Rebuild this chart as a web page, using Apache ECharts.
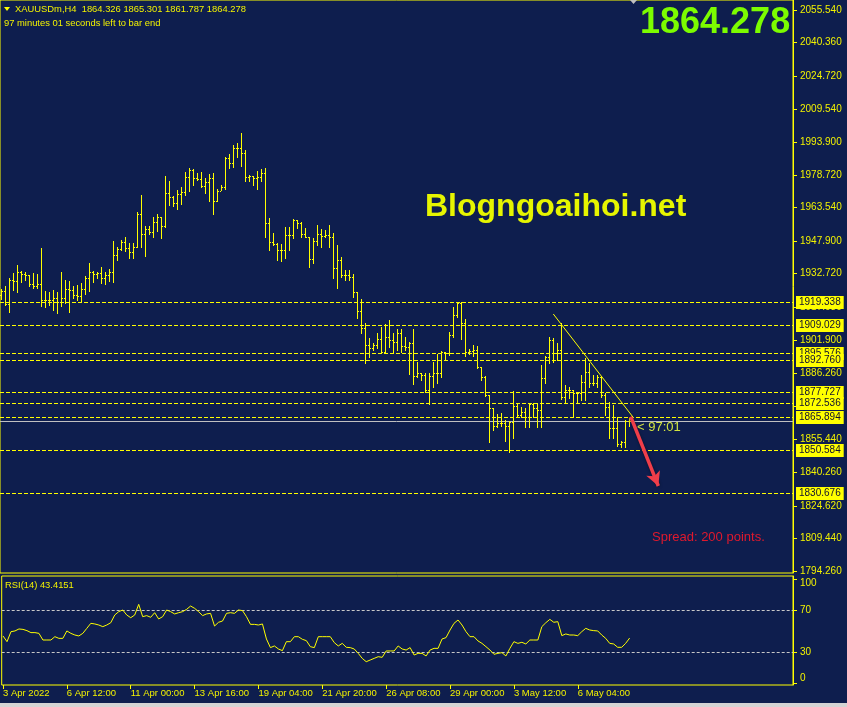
<!DOCTYPE html>
<html>
<head>
<meta charset="utf-8">
<script src="https://cdn.jsdelivr.net/npm/echarts/dist/echarts.min.js"></script>
<style>
html,body{margin:0;padding:0;background:#0e1e4e;}
#chart{width:847px;height:707px;}
</style>
</head>
<body>
<div id="chart"></div>
<script>
// ---------- DATA ----------
const opens = [1922.81,1924.83,1918.62,1929.64,1929.48,1933.67,1932.59,1932.12,1927.93,1927.00,
1927.78,1920.48,1920.48,1920.48,1921.57,1919.70,1921.57,1925.45,1925.14,1922.81,
1922.34,1925.45,1930.57,1933.67,1932.59,1932.90,1930.88,1932.12,1933.67,1941.44,
1944.23,1947.65,1944.54,1942.68,1945.01,1960.38,1951.22,1953.55,1952.30,1956.96,
1958.98,1955.00,1970.16,1968.60,1965.81,1969.85,1970.93,1977.61,1981.02,1977.45,
1976.68,1973.57,1975.28,1977.45,1966.59,1971.40,1973.26,1986.46,1984.44,1991.11,
1991.42,1988.78,1977.92,1978.23,1977.14,1977.92,1979.78,1956.18,1947.64,1946.50,
1943.76,1943.76,1950.75,1950.75,1957.73,1956.49,1951.21,1949.97,1939.57,1948.00,
1951.21,1950.28,1950.75,1949.97,1935.22,1939.10,1932.12,1932.12,1931.34,1924.04,
1915.35,1907.28,1899.50,1897.96,1899.52,1902.16,1896.10,1903.40,1901.84,1901.07,
1904.95,1899.05,1898.74,1900.29,1885.08,1886.32,1885.54,1878.56,1885.08,1886.32,
1886.32,1896.41,1895.95,1904.17,1913.49,1918.92,1909.61,1896.41,1896.88,1897.19,
1889.43,1884.77,1876.23,1870.02,1861.79,1863.03,1863.03,1861.79,1863.81,1871.10,
1866.91,1868.46,1866.14,1872.04,1870.02,1869.24,1883.99,1894.08,1901.84,1895.63,
1897.18,1875.45,1878.56,1878.56,1877.31,1877.00,1882.44,1887.09,1881.66,1881.66,
1884.76,1876.23,1870.48,1860.70,1860.70,1853.41,1854.49,1864.326];
const highs = [1925.45,1927.00,1930.88,1933.21,1936.78,1934.14,1933.67,1932.12,1933.21,1932.59,
1944.85,1924.83,1924.36,1925.14,1924.36,1933.67,1929.79,1929.48,1927.00,1927.46,
1928.24,1931.81,1937.87,1934.14,1933.67,1936.00,1933.67,1934.76,1947.96,1945.01,
1948.42,1949.66,1946.87,1946.87,1961.31,1969.38,1954.94,1955.10,1959.29,1960.38,
1959.30,1978.23,1975.90,1968.91,1971.71,1973.26,1980.25,1981.80,1981.49,1979.47,
1980.25,1977.14,1979.00,1979.47,1972.17,1974.04,1987.23,1988.47,1992.67,1993.44,
1998.10,1990.34,1978.69,1978.38,1980.71,1981.33,1981.80,1958.51,1951.52,1946.86,
1946.40,1954.63,1954.63,1958.04,1957.73,1956.95,1953.85,1949.66,1949.50,1955.40,
1953.38,1953.07,1955.40,1951.52,1946.09,1940.65,1934.45,1934.45,1932.58,1924.36,
1920.94,1909.61,1902.62,1900.29,1904.95,1908.05,1909.14,1911.16,1905.26,1906.81,
1906.81,1903.40,1901.07,1906.81,1891.44,1886.63,1886.63,1886.32,1891.44,1895.32,
1896.72,1896.41,1905.73,1917.37,1919.39,1919.70,1911.47,1897.50,1899.52,1899.05,
1889.43,1885.23,1876.23,1870.02,1867.38,1867.69,1864.58,1864.12,1878.24,1872.35,
1870.79,1870.02,1872.35,1872.35,1872.35,1890.20,1894.39,1903.39,1902.62,1900.29,
1909.91,1880.88,1880.11,1878.56,1877.78,1885.54,1893.30,1890.97,1885.54,1885.54,
1885.00,1877.00,1873.12,1871.57,1866.14,1854.96,1864.58,1865.301];
const lows = [1920.94,1918.15,1915.05,1925.14,1924.05,1928.71,1929.79,1927.00,1925.91,1925.91,
1917.68,1917.37,1918.15,1915.82,1914.58,1917.68,1918.93,1915.05,1921.26,1920.48,
1920.17,1923.27,1924.67,1929.02,1930.88,1928.24,1927.78,1929.33,1929.02,1939.11,
1943.76,1943.30,1939.88,1939.88,1945.01,1945.32,1940.97,1951.06,1949.97,1952.61,
1949.51,1954.50,1964.72,1964.26,1962.86,1965.03,1969.38,1971.24,1974.04,1976.37,
1972.95,1970.16,1966.59,1960.38,1966.59,1971.71,1972.02,1981.80,1982.57,1987.23,
1982.89,1976.05,1976.05,1974.04,1972.17,1976.05,1949.97,1943.76,1946.09,1939.10,
1938.64,1939.88,1943.76,1949.19,1953.85,1949.97,1949.66,1936.00,1937.55,1946.09,
1945.31,1949.97,1945.31,1930.56,1925.91,1931.34,1929.79,1929.79,1921.72,1911.94,
1904.95,1890.98,1894.08,1897.19,1897.96,1895.64,1896.10,1898.74,1896.41,1897.19,
1896.41,1897.19,1885.85,1881.35,1884.77,1883.22,1877.78,1872.04,1879.80,1881.66,
1884.77,1892.53,1894.86,1903.40,1912.71,1902.16,1894.39,1895.32,1894.39,1888.65,
1883.22,1875.76,1854.50,1859.93,1861.48,1861.79,1855.00,1849.84,1856.05,1866.14,
1866.14,1861.48,1861.48,1866.14,1861.48,1861.48,1881.66,1890.97,1891.75,1892.53,
1874.21,1873.12,1874.67,1866.14,1873.12,1873.90,1873.90,1880.11,1880.88,1880.11,
1875.45,1866.91,1856.05,1856.05,1852.63,1852.16,1852.16,1861.787];
const closes = [1924.83,1918.62,1929.64,1929.48,1933.67,1932.59,1932.12,1927.93,1927.00,1927.78,
1920.48,1920.48,1920.48,1921.57,1919.70,1921.57,1925.45,1925.14,1922.81,1922.34,
1925.45,1930.57,1933.67,1932.59,1932.90,1930.88,1932.12,1933.67,1941.44,1944.23,
1947.65,1944.54,1942.68,1945.01,1960.38,1951.22,1953.55,1952.30,1956.96,1958.98,
1955.00,1970.16,1968.60,1965.81,1969.85,1970.93,1977.61,1981.02,1977.45,1976.68,
1973.57,1975.28,1977.45,1966.59,1971.40,1973.26,1986.46,1984.44,1991.11,1991.42,
1988.78,1977.92,1978.23,1977.14,1977.92,1979.78,1956.18,1947.64,1946.50,1943.76,
1943.76,1950.75,1950.75,1957.73,1956.49,1951.21,1949.97,1939.57,1948.00,1951.21,
1950.28,1950.75,1949.97,1935.22,1939.10,1932.12,1932.12,1931.34,1924.04,1915.35,
1907.28,1899.50,1897.96,1899.52,1902.16,1896.10,1903.40,1901.84,1901.07,1904.95,
1899.05,1898.74,1900.29,1885.08,1886.32,1885.54,1878.56,1885.08,1886.32,1886.32,
1896.41,1895.95,1904.17,1913.49,1918.92,1909.61,1896.41,1896.88,1897.19,1889.43,
1884.77,1876.23,1870.02,1861.79,1863.03,1863.03,1861.79,1863.81,1871.10,1866.91,
1868.46,1866.14,1872.04,1870.02,1869.24,1883.99,1894.08,1901.84,1895.63,1897.18,
1875.45,1878.56,1878.56,1877.31,1877.00,1882.44,1887.09,1881.66,1881.66,1884.76,
1876.23,1870.48,1860.70,1860.70,1853.41,1854.49,1864.27,1864.278];
const rsi = [45.4,39.9,49.5,50.2,52.1,51.7,50.5,48.6,48.6,47.9,
41.5,41.5,41.5,44.7,43.1,43.1,50.2,47.9,46.3,45.4,
47.9,52.7,57.5,56.9,55.9,54.3,55.9,58.1,65.5,68.7,
70.3,65.5,62.9,65.5,75.7,63.9,64.9,63.3,67.7,61.7,
63.9,70.3,68.7,66.5,67.7,68.7,70.9,74.1,71.9,68.7,
64.9,66.5,67.1,54.9,58.5,59.7,67.1,67.7,67.1,70.3,
69.7,63.9,56.5,56.5,55.9,56.9,42.5,34.2,35.8,32.9,
31.3,39.9,39.9,44.7,44.7,42.2,40.9,35.1,34.2,44.7,
44.7,44.7,44.7,39.0,35.8,38.3,34.5,34.2,32.9,28.7,
23.9,20.7,22.3,23.9,25.5,24.9,31.0,31.0,31.0,35.8,
32.9,31.9,34.2,27.1,28.7,28.7,26.2,31.9,33.5,33.5,
42.5,43.8,51.1,57.5,60.7,55.9,49.5,44.7,44.7,40.6,
38.3,35.1,31.9,27.8,28.7,29.4,26.2,33.5,39.9,38.3,
39.3,37.7,41.5,41.5,41.5,54.3,58.1,61.3,58.5,59.1,
45.7,47.3,46.3,46.3,45.7,49.5,52.7,51.1,50.5,50.2,
46.3,43.1,38.3,37.7,34.5,34.5,38.3,43.4];

const priceTicks = [2055.54,2040.36,2024.72,2009.54,1993.90,1978.72,1963.54,1947.90,1932.72,
1917.08,1901.90,1886.26,1871.08,1855.44,1840.26,1824.62,1809.44,1794.26];
const rsiTicks = [0,30,70,100];
const rsiLevels = [70,30];
const levels = [1919.338,1909.029,1895.576,1892.760,1877.727,1872.536,1865.894,1850.584,1830.676];
const bidPrice = [1864.278];
const xTickIdx = [0,16,32,48,64,80,96,112,128,144];
const xTickLabels = ['3 Apr 2022','6 Apr 12:00','11 Apr 00:00','13 Apr 16:00','19 Apr 04:00',
  '21 Apr 20:00','26 Apr 08:00','29 Apr 00:00','3 May 12:00','6 May 04:00'];
const trendX = [138, 157.9];
const trendY = [1913.95, 1866.0];
const arrowX = [157.35, 164.25];
const arrowY = [1866.12, 1833.85];

// ---------- STYLE ----------
const BG = '#0e1e4e';
const YEL = '#ffff00';
const LBL = '#f2f200';
const FONT = "'Liberation Sans', Arial, sans-serif";
const f = (s, w) => (w ? w + ' ' : '') + s + "px 'Liberation Sans', Arial, sans-serif";

const ohlc = opens.map((o, i) => [i, o, highs[i], lows[i], closes[i]]);

const chart = echarts.init(document.getElementById('chart'), null, {renderer: 'canvas'});

// horizontal level renderer (crisp 1px lines)
function hLine(stroke, dash, labelStyle) {
  return (params, api) => {
    const v = api.value(1);
    const cs = params.coordSys;
    const y = Math.round(api.coord([0, v])[1]) + 0.5;
    const children = [{type: 'line', shape: {x1: cs.x, y1: y, x2: cs.x + cs.width, y2: y},
      style: {stroke: stroke, lineWidth: 1, lineDash: dash}}];
    if (labelStyle) {
      children.push({type: 'text', x: cs.x + cs.width + labelStyle.dx, y: y,
        style: Object.assign({text: v.toFixed(3), align: 'left', verticalAlign: 'middle', font: f(10)}, labelStyle.style)});
    }
    return {type: 'group', children: children};
  };
}

const option = {
  backgroundColor: BG,
  animation: false,
  grid: [
    {left: 0, top: 0, width: 793, height: 573, show: true, borderColor: YEL, borderWidth: 1},
    {left: 0, top: 576, width: 793, height: 109, show: true, borderColor: YEL, borderWidth: 1}
  ],
  xAxis: [
    {type: 'value', gridIndex: 0, min: -0.325, max: 197.925, show: false, axisLine: {onZero: false}},
    {type: 'value', gridIndex: 1, min: -0.325, max: 197.925,
      axisLine: {show: false, onZero: false}, splitLine: {show: false},
      axisTick: {show: true, customValues: xTickIdx, length: 4, lineStyle: {color: YEL}},
      axisLabel: {show: true, customValues: xTickIdx, align: 'left', margin: 3,
        color: LBL, fontSize: 9.5, fontFamily: FONT,
        formatter: v => { const k = xTickIdx.indexOf(Math.round(v)); return k >= 0 ? xTickLabels[k] : ''; }}}
  ],
  yAxis: [
    {type: 'value', gridIndex: 0, position: 'right', min: 1793.33, max: 2060.20,
      axisLine: {show: true, onZero: false, lineStyle: {color: YEL}}, splitLine: {show: false},
      axisTick: {show: true, customValues: priceTicks, length: 4, lineStyle: {color: YEL}},
      axisLabel: {show: true, customValues: priceTicks, margin: 7, align: 'left',
        color: LBL, fontSize: 10, fontFamily: FONT, formatter: v => v.toFixed(3)}},
    {type: 'value', gridIndex: 1, position: 'right', min: -1.65, max: 102.9,
      axisLine: {show: true, onZero: false, lineStyle: {color: YEL}}, splitLine: {show: false},
      axisTick: {show: true, customValues: rsiTicks, length: 4, lineStyle: {color: YEL}},
      axisLabel: {show: true, customValues: rsiTicks, margin: 7, align: 'left',
        color: LBL, fontSize: 10, fontFamily: FONT,
        formatter: v => v === 100 ? '{a|100}' : (v === 0 ? '{b|0}' : String(v)),
        rich: {a: {padding: [9, 0, 0, 0], color: LBL, fontSize: 10, fontFamily: FONT},
               b: {padding: [0, 0, 10, 0], color: LBL, fontSize: 10, fontFamily: FONT}}}}
  ],
  series: [
    {
      type: 'custom', name: 'bid', xAxisIndex: 0, yAxisIndex: 0, silent: true, z: 2,
      data: bidPrice.map(v => [0, v]), encode: {x: 0, y: 1},
      renderItem: hLine('#c0c0c0', null, {dx: 7, style: {fill: LBL}})
    },
    {
      type: 'custom', name: 'XAUUSDm', xAxisIndex: 0, yAxisIndex: 0, silent: true, z: 3,
      data: ohlc, encode: {x: 0, y: [1, 2, 3, 4]},
      renderItem: (params, api) => {
        const i = api.value(0);
        const pH = api.coord([i, api.value(2)]);
        const pL = api.coord([i, api.value(3)]);
        const pO = api.coord([i, api.value(1)]);
        const pC = api.coord([i, api.value(4)]);
        const x = Math.floor(pH[0]);
        const yH = Math.round(pH[1]), yL = Math.round(pL[1]);
        return {type: 'group', children: [
          {type: 'rect', shape: {x: x, y: yH, width: 1, height: Math.max(1, yL - yH + 1)}, style: {fill: YEL}},
          {type: 'rect', shape: {x: x - 1, y: Math.round(pO[1]), width: 1, height: 1}, style: {fill: YEL}},
          {type: 'rect', shape: {x: x + 1, y: Math.round(pC[1]), width: 1, height: 1}, style: {fill: YEL}}
        ]};
      }
    },
    {
      type: 'custom', name: 'levels', xAxisIndex: 0, yAxisIndex: 0, silent: true, z: 4,
      data: levels.map(v => [0, v]), encode: {x: 0, y: 1},
      renderItem: hLine(YEL, [4, 2], {dx: 3, style: {fill: '#101030', backgroundColor: YEL, padding: [2, 3, 1, 3]}})
    },
    {
      type: 'line', name: 'trend', xAxisIndex: 0, yAxisIndex: 0,
      data: trendX.map((x, k) => [x, trendY[k]]),
      showSymbol: false, lineStyle: {color: YEL, width: 1}, silent: true, z: 5,
      markLine: {
        silent: true, symbol: ['none', 'arrow'], symbolSize: [11, 14],
        lineStyle: {color: '#ef3e4a', width: 3.5, type: 'solid', shadowColor: 'rgba(0,0,0,0.5)', shadowBlur: 3},
        label: {show: false}, emphasis: {disabled: true},
        data: [[{coord: [arrowX[0], arrowY[0]]}, {coord: [arrowX[1], arrowY[1]]}]]
      }
    },
    {
      type: 'custom', name: 'rsiLevels', xAxisIndex: 1, yAxisIndex: 1, silent: true, z: 2,
      data: rsiLevels.map(v => [0, v]), encode: {x: 0, y: 1},
      renderItem: hLine('#c8c8c8', [3, 2], null)
    },
    {
      type: 'line', name: 'RSI(14)', xAxisIndex: 1, yAxisIndex: 1,
      data: rsi.map((v, i) => [i, v]),
      showSymbol: false, lineStyle: {color: YEL, width: 1}, silent: true, z: 4
    }
  ],
  graphic: [
    {type: 'polygon', shape: {points: [[4, 7], [10, 7], [7, 11]]}, style: {fill: YEL}},
    {type: 'polygon', shape: {points: [[630, 0], [637, 0], [633.5, 4]]}, style: {fill: '#c0c0c0'}},
    {type: 'text', x: 15, y: 9, style: {text: 'XAUUSDm,H4  1864.326 1865.301 1861.787 1864.278',
      fill: LBL, verticalAlign: 'middle', font: f(9.4)}},
    {type: 'text', x: 4, y: 23, style: {text: '97 minutes 01 seconds left to bar end',
      fill: LBL, verticalAlign: 'middle', font: f(9.4)}},
    {type: 'text', x: 640, y: 23, style: {text: '1864.278', fill: '#7cfc00', verticalAlign: 'middle',
      font: f(36, 'bold')}},
    {type: 'text', x: 425, y: 207, style: {text: 'Blogngoaihoi.net', fill: '#e6f500', verticalAlign: 'middle',
      font: f(32, 'bold')}},
    {type: 'text', x: 637, y: 427, style: {text: '< 97:01', fill: '#d2e440', verticalAlign: 'middle',
      font: f(13)}},
    {type: 'text', x: 652, y: 537, style: {text: 'Spread: 200 points.', fill: '#e0192d', verticalAlign: 'middle',
      font: f(13)}},
    {type: 'text', x: 5, y: 585, style: {text: 'RSI(14) 43.4151', fill: LBL, verticalAlign: 'middle',
      font: f(9.4)}},
    {type: 'rect', shape: {x: 0, y: 703, width: 847, height: 4}, style: {fill: '#d4d4d4'}}
  ]
};
chart.setOption(option);
</script>
</body>
</html>
